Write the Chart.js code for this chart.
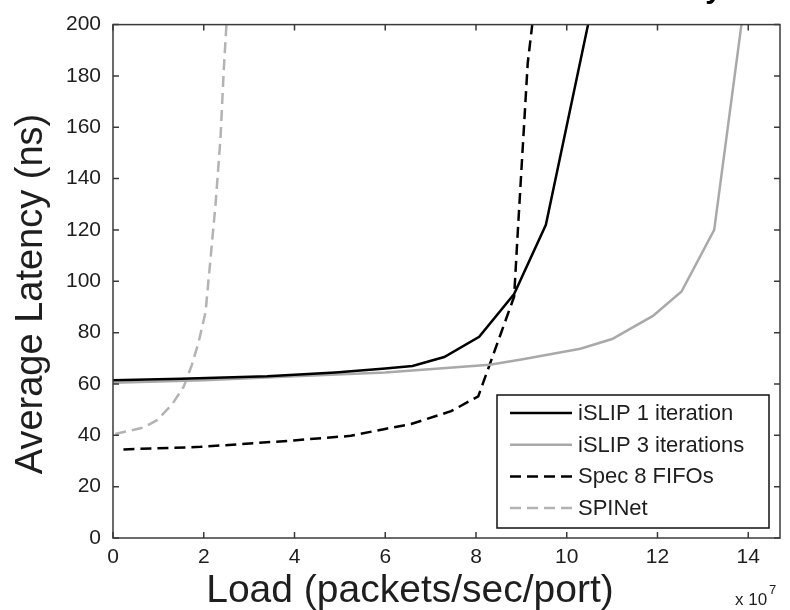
<!DOCTYPE html>
<html>
<head>
<meta charset="utf-8">
<script src="https://cdn.jsdelivr.net/npm/chart.js@4.4.1/dist/chart.umd.min.js"></script>
<style>
  html, body { margin: 0; padding: 0; background: #fff; }
  #wrap { position: relative; width: 790px; height: 610px; }
</style>
</head>
<body>
<div id="wrap"><canvas id="latencyChart"></canvas></div>
<script>
// ─────────────────────────────────────────
//  DATA  (load in 1e7 packets/sec/port, latency in ns)
// ─────────────────────────────────────────
const islip1Load     = [0, 1.5, 3.4, 4.9, 6.0, 6.6, 7.3, 8.07, 8.84, 9.54, 10.47];
const islip1Latency  = [61.5, 62, 63, 64.5, 66, 67, 70.5, 78.4, 95, 122, 200];

const islip3Load     = [0, 2, 4, 6, 8.3, 9, 10.3, 11, 11.9, 12.53, 13.25, 13.85];
const islip3Latency  = [60.5, 61.5, 63, 64.5, 67.5, 69.5, 73.7, 77.5, 86.5, 96, 120, 200];

const specLoad       = [0.23, 1.93, 3.98, 5.24, 5.97, 6.57, 7.45, 8.05, 8.84, 8.92, 9.14, 9.24];
const specLatency    = [34.5, 35.5, 38, 39.8, 42.4, 44.4, 49.4, 55.2, 94, 119, 185, 200];

const spinetLoad     = [0.05, 0.67, 0.98, 1.3, 1.56, 1.74, 1.89, 2.04, 2.26, 2.37, 2.44, 2.5];
const spinetLatency  = [40.5, 43, 46, 52, 59, 67.5, 76.5, 88, 130, 156, 182, 200];

const seriesNames    = ['iSLIP 1 iteration', 'iSLIP 3 iterations', 'Spec 8 FIFOs', 'SPINet'];

const X_MIN = 0, X_MAX = 14.7, X_STEP = 2;
const Y_MIN = 0, Y_MAX = 200,  Y_STEP = 20;

// ─────────────────────────────────────────
//  STYLE
// ─────────────────────────────────────────
const FONT       = '"Liberation Sans", Arial, sans-serif';
const AXIS_COLOR = '#3a3a3a';
const TEXT_COLOR = '#1e1e1e';
const TICK_LEN   = 6;
const DASH       = [11, 6];

const toPoints = (xs, ys) => xs.map((x, i) => ({ x, y: ys[i] }));

// ─────────────────────────────────────────
//  PLUGIN: matlab style box, inward ticks, legend, labels
// ─────────────────────────────────────────
const matlabFrame = {
  id: 'matlabFrame',
  afterDatasetsDraw(chart) {
    const { ctx, chartArea: a, scales: { x, y } } = chart;
    ctx.save();

    // box + inward ticks
    ctx.strokeStyle = AXIS_COLOR;
    ctx.lineWidth   = 1.5;
    ctx.strokeRect(a.left, a.top, a.right - a.left, a.bottom - a.top);
    ctx.beginPath();
    x.ticks.forEach(t => {
      const px = x.getPixelForValue(t.value);
      ctx.moveTo(px, a.bottom); ctx.lineTo(px, a.bottom - TICK_LEN);
      ctx.moveTo(px, a.top);    ctx.lineTo(px, a.top + TICK_LEN);
    });
    y.ticks.forEach(t => {
      const py = y.getPixelForValue(t.value);
      ctx.moveTo(a.left, py);  ctx.lineTo(a.left + TICK_LEN, py);
      ctx.moveTo(a.right, py); ctx.lineTo(a.right - TICK_LEN, py);
    });
    ctx.stroke();

    // legend box (bottom right of the axes)
    const boxL = a.right - 283, boxT = a.bottom - 143, boxR = a.right - 11, boxB = a.bottom - 10;
    ctx.fillStyle = '#fff';
    ctx.fillRect(boxL, boxT, boxR - boxL, boxB - boxT);
    ctx.strokeStyle = '#111';
    ctx.lineWidth = 1.5;
    ctx.strokeRect(boxL, boxT, boxR - boxL, boxB - boxT);

    ctx.font = `22px ${FONT}`;
    ctx.textBaseline = 'middle';
    ctx.textAlign = 'left';
    chart.data.datasets.forEach((ds, i) => {
      const ly = boxT + 18 + i * 31.7;
      ctx.beginPath();
      ctx.strokeStyle = ds.borderColor;
      ctx.lineWidth = 2.5;
      ctx.setLineDash(ds.borderDash || []);
      ctx.moveTo(boxL + 13, ly);
      ctx.lineTo(boxL + 75, ly);
      ctx.stroke();
      ctx.setLineDash([]);
      ctx.fillStyle = TEXT_COLOR;
      ctx.fillText(ds.label, boxL + 81, ly + 1);
    });
    ctx.restore();
  },
  afterDraw(chart) {
    const { ctx } = chart;
    ctx.save();
    ctx.fillStyle = TEXT_COLOR;

    // x axis label
    ctx.font = `39px ${FONT}`;
    ctx.textAlign = 'center';
    ctx.textBaseline = 'alphabetic';
    ctx.fillText('Load (packets/sec/port)', 410, 602);

    // y axis label
    ctx.font = `38px ${FONT}`;
    ctx.save();
    ctx.translate(42, 294);
    ctx.rotate(-Math.PI / 2);
    ctx.fillText('Average Latency (ns)', 0, 0);
    ctx.restore();

    // exponent  x 10^7
    ctx.textAlign = 'left';
    ctx.font = `17px ${FONT}`;
    ctx.fillText('x 10', 735, 605);
    ctx.font = `13px ${FONT}`;
    ctx.fillText('7', 769, 594);

    // title, clipped by the top edge
    ctx.font = `bold 30px ${FONT}`;
    ctx.textAlign = 'right';
    ctx.fillStyle = '#000';
    ctx.fillText('Latency', 722, -2);
    ctx.restore();
  },
};

// ─────────────────────────────────────────
//  CHART
// ─────────────────────────────────────────
const ctx = document.getElementById('latencyChart').getContext('2d');
new Chart(ctx, {
  type: 'line',
  data: {
    datasets: [
      {
        label:       seriesNames[0],
        data:        toPoints(islip1Load, islip1Latency),
        borderColor: '#000000',
        borderWidth: 2.5,
      },
      {
        label:       seriesNames[1],
        data:        toPoints(islip3Load, islip3Latency),
        borderColor: '#a9a9a9',
        borderWidth: 2.5,
      },
      {
        label:       seriesNames[2],
        data:        toPoints(specLoad, specLatency),
        borderColor: '#000000',
        borderWidth: 2.5,
        borderDash:  DASH,
      },
      {
        label:       seriesNames[3],
        data:        toPoints(spinetLoad, spinetLatency),
        borderColor: '#b3b3b3',
        borderWidth: 2.5,
        borderDash:  DASH,
      },
    ],
  },
  options: {
    responsive: true,
    maintainAspectRatio: false,
    animation: false,
    elements: {
      point: { radius: 0, hoverRadius: 0 },
      line:  { tension: 0, fill: false, backgroundColor: 'transparent' },
    },
    layout: { padding: { top: 20, right: 10, left: 0, bottom: 0 } },
    plugins: {
      legend:  { display: false },
      tooltip: { enabled: false },
      title:   { display: false },
    },
    scales: {
      x: {
        type: 'linear',
        min: X_MIN,
        max: X_MAX,
        grid:   { display: false, drawTicks: false },
        border: { display: false },
        ticks:  {
          stepSize: X_STEP,
          includeBounds: false,
          autoSkip: false,
          maxRotation: 0,
          padding: 7,
          color: TEXT_COLOR,
          font: { family: FONT, size: 21 },
        },
        afterFit: s => { s.height = 72; },
      },
      y: {
        min: Y_MIN,
        max: Y_MAX,
        grid:   { display: false, drawTicks: false },
        border: { display: false },
        ticks:  {
          stepSize: Y_STEP,
          autoSkip: false,
          padding: 12,
          color: TEXT_COLOR,
          font: { family: FONT, size: 21 },
        },
        afterFit: s => { s.width = 113; },
      },
    },
  },
  plugins: [matlabFrame],
});
</script>
</body>
</html>
